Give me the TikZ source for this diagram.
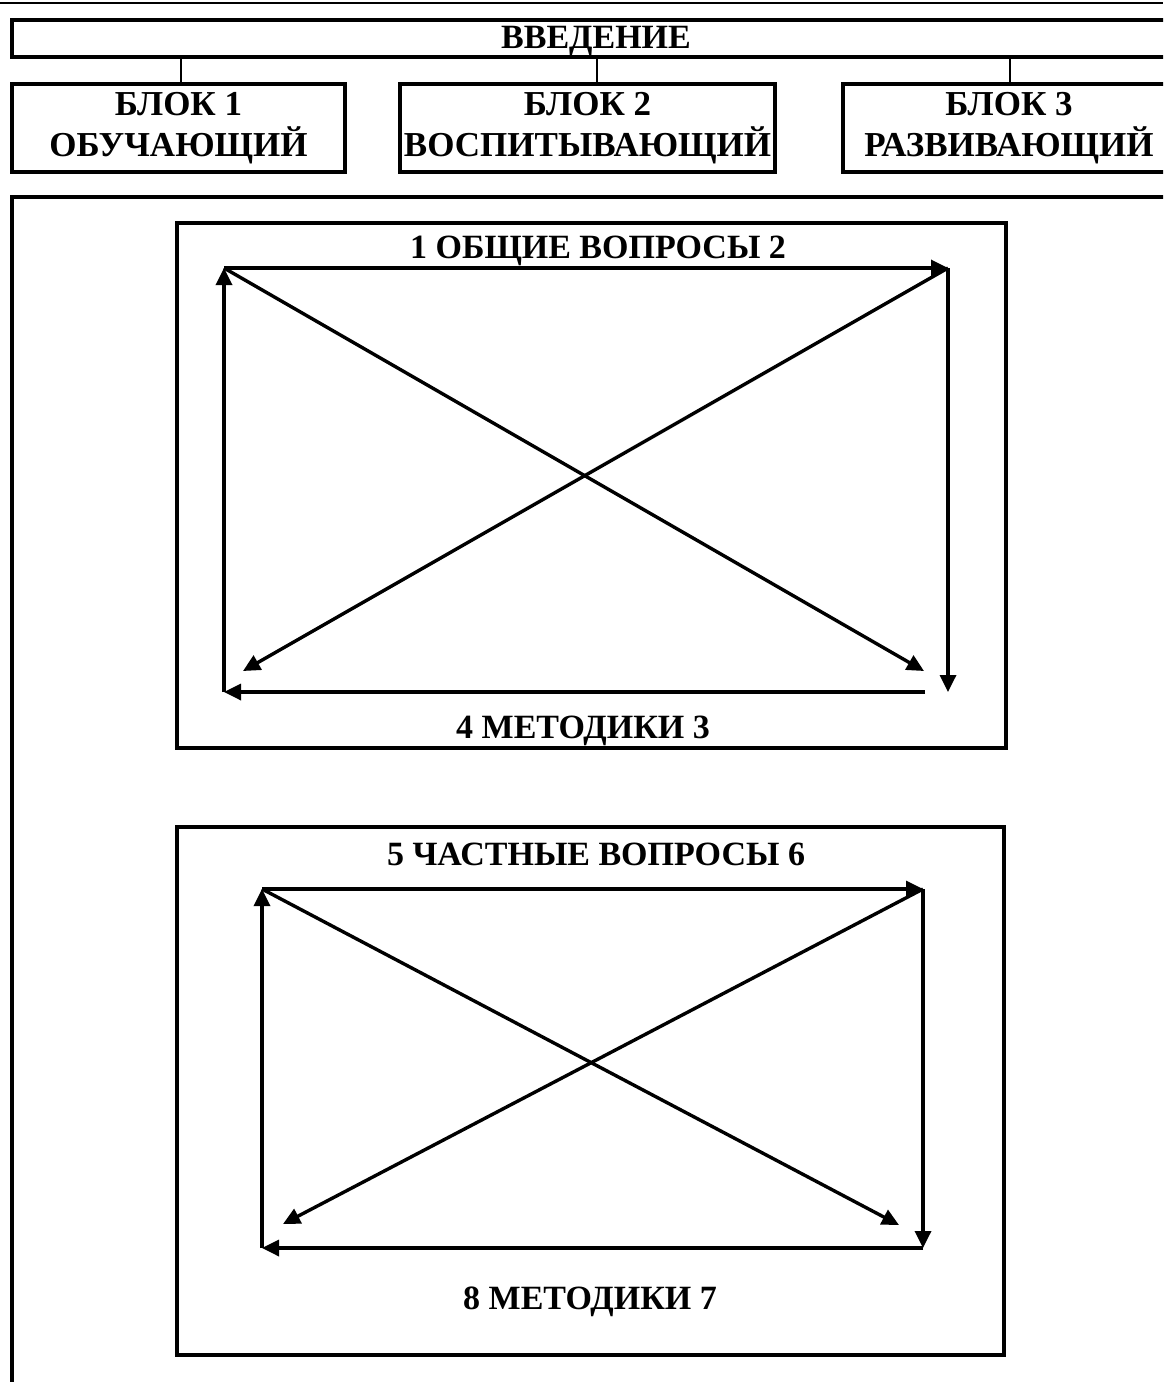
\documentclass[tikz,border=0pt]{standalone}
\usepackage{fontspec}
\setmainfont{Liberation Serif}
\usetikzlibrary{arrows.meta}
\begin{document}
\begin{tikzpicture}[x=0.5pt,y=-0.5pt,
  frame/.style={draw, line width=1.9pt, inner sep=0pt, outer sep=0pt},
  blocktext/.style={font=\bfseries\fontsize{17.5}{20.5}\selectfont, align=center},
  title/.style={font=\bfseries\fontsize{17}{20}\selectfont, anchor=base, inner sep=0pt},
  conn/.style={line width=1.2pt},
  arr/.style={line width=1.7pt, -{Triangle[length=8.5pt,width=8pt]}},
  plain/.style={line width=1.7pt}]
\useasboundingbox (0,0) rectangle (1163,1382);
\clip (0,0) rectangle (1163,1382);
% top rule
\coordinate (rl) at (0,3);
\coordinate (rr) at (1163,3);
\draw[line width=0.9pt] (rl) -- (rr);
% header boxes
\node[frame, minimum width=584pt, minimum height=18.5pt] (vved) at (596,38.5) {};
\node[title] (vvedt) at (596,48) {ВВЕДЕНИЕ};
\node[frame, blocktext, minimum width=166.5pt, minimum height=44pt] (b1) at (178.5,128) {БЛОК 1\\ОБУЧАЮЩИЙ};
\node[frame, blocktext, minimum width=187.5pt, minimum height=44pt] (b2) at (587.5,128) {БЛОК 2\\ВОСПИТЫВАЮЩИЙ};
\node[frame, blocktext, minimum width=166pt, minimum height=44pt] (b3) at (1009,128) {БЛОК 3\\РАЗВИВАЮЩИЙ};
\coordinate (t1) at (181,84);
\coordinate (t2) at (597,84);
\coordinate (t3) at (1010,84);
\draw[conn] (t1) -- (t1 |- vved.south);
\draw[conn] (t2) -- (t2 |- vved.south);
\draw[conn] (t3) -- (t3 |- vved.south);
% outer box
\node[frame, minimum width=584pt, minimum height=601.5pt] (outer) at (596,798.5) {};
% inner box 1
\node[frame, minimum width=414.5pt, minimum height=262.5pt] (in1) at (591.5,485.5) {};
\node[title] (t1a) at (598,258) {1 ОБЩИЕ ВОПРОСЫ 2};
\node[title] (t1b) at (583,738) {4 МЕТОДИКИ 3};
\coordinate (A1) at (224,268);
\coordinate (B1) at (948,268);
\coordinate (C1) at (948,692);
\coordinate (D1) at (224,692);
\coordinate (E1) at (925,692);
\coordinate (F1) at (924,671);
\coordinate (G1) at (243,671);
\draw[arr] (A1) -- (B1);
\draw[arr] (B1) -- (C1);
\draw[arr] (E1) -- (D1);
\draw[arr] (D1) -- (A1);
\draw[arr] (A1) -- (F1);
\draw[arr] (B1) -- (G1);
% inner box 2
\node[frame, minimum width=413.5pt, minimum height=264pt] (in2) at (590.5,1091) {};
\node[title] (t2a) at (596,865) {5 ЧАСТНЫЕ ВОПРОСЫ 6};
\node[title] (t2b) at (590,1309) {8 МЕТОДИКИ 7};
\coordinate (A2) at (262,889);
\coordinate (B2) at (923,889);
\coordinate (C2) at (923,1248);
\coordinate (D2) at (262,1248);
\coordinate (F2) at (899,1225);
\coordinate (G2) at (283,1224);
\draw[arr] (A2) -- (B2);
\draw[arr] (B2) -- (C2);
\draw[arr] (C2) -- (D2);
\draw[arr] (D2) -- (A2);
\draw[arr] (A2) -- (F2);
\draw[arr] (B2) -- (G2);
\end{tikzpicture}
\end{document}
